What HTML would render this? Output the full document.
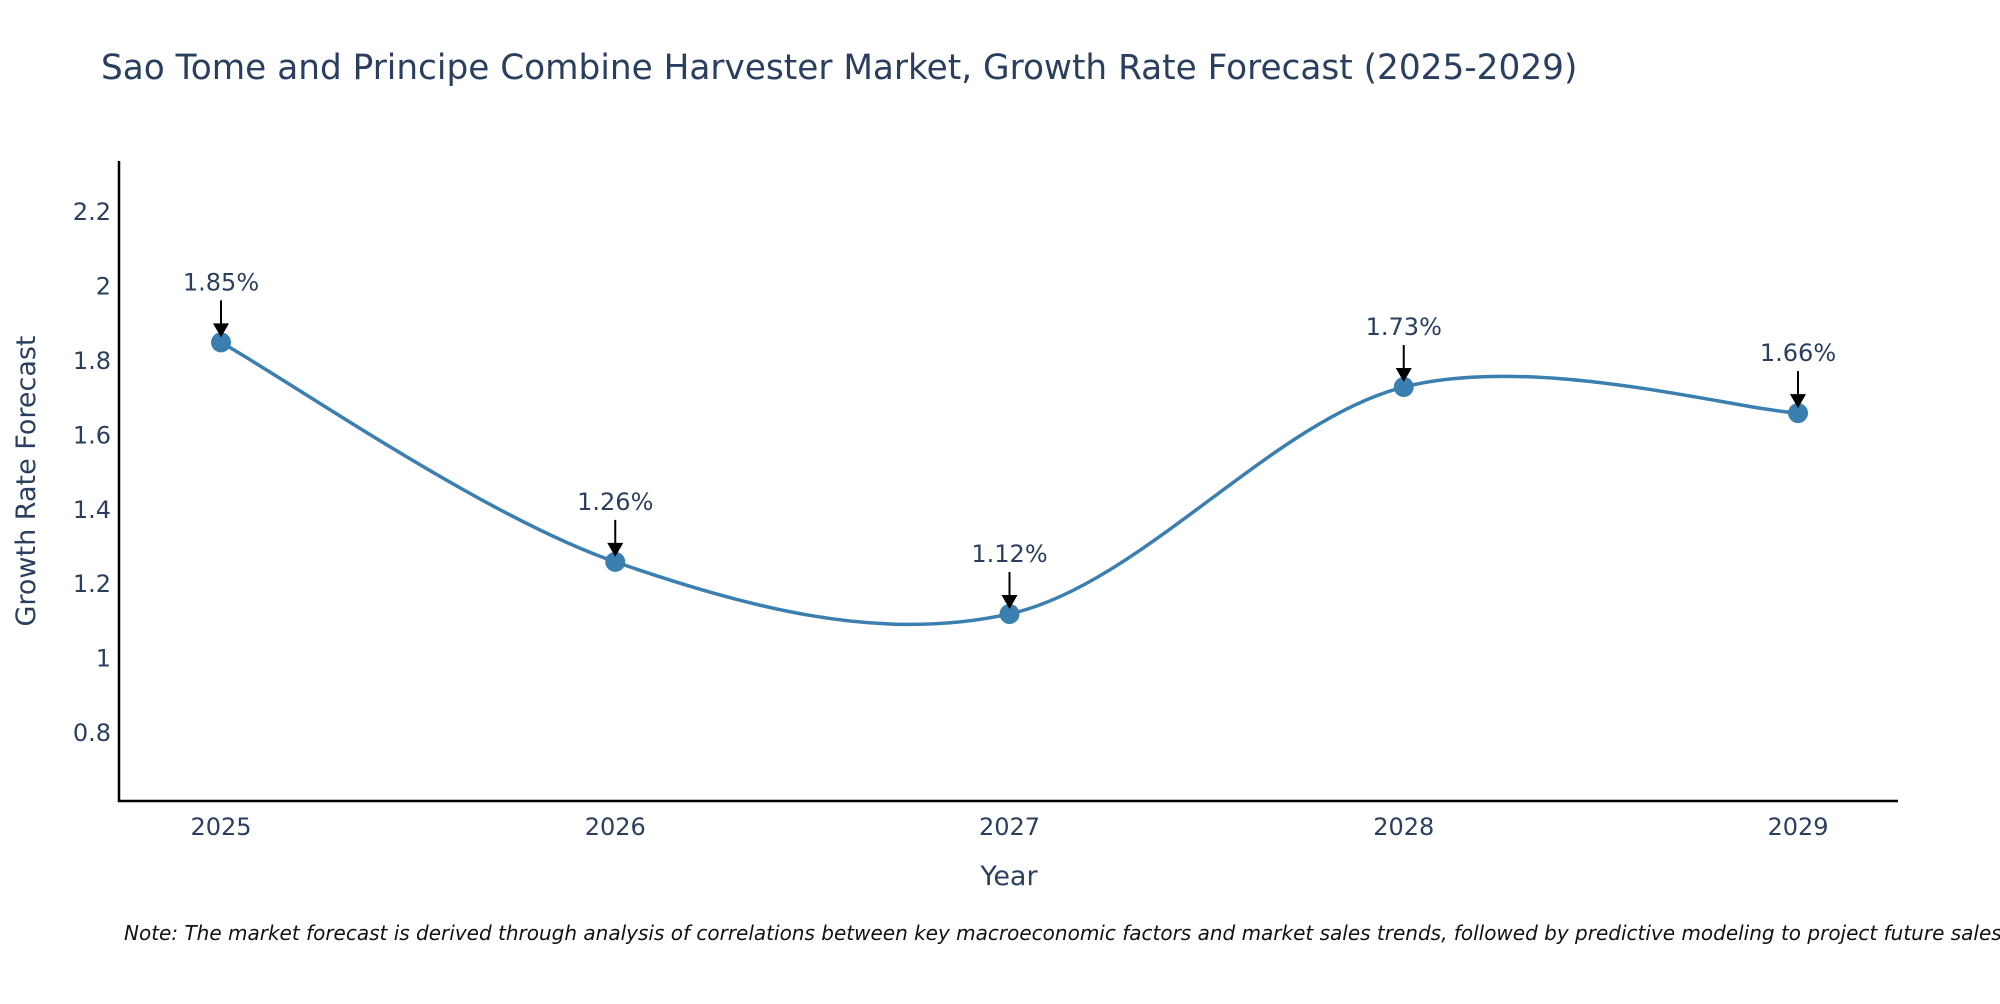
<!DOCTYPE html>
<html><head><meta charset="utf-8"><style>
body{margin:0;background:#fff;font-family:"DejaVu Sans",sans-serif;}
svg text{font-family:"DejaVu Sans",sans-serif;fill:#2a3f5f;}
</style></head><body>
<svg width="2000" height="1000" id="chart">
<text x="101" y="79" font-size="34.3">Sao Tome and Principe Combine Harvester Market, Growth Rate Forecast (2025-2029)</text>
<g id="yticks"></g>
<g id="xticks"></g>
<line x1="119" y1="161" x2="119" y2="802" stroke="#000" stroke-width="2.5"/>
<line x1="118" y1="801" x2="1898" y2="801" stroke="#000" stroke-width="2.5"/>
<text x="0" y="0" font-size="27" text-anchor="middle" transform="translate(35,481) rotate(-90)">Growth Rate Forecast</text>
<text x="1009" y="885" font-size="27" text-anchor="middle">Year</text>
<g id="series"></g>
<text x="124" y="940" font-size="20" font-style="italic" style="fill:#111">Note: The market forecast is derived through analysis of correlations between key macroeconomic factors and market sales trends, followed by predictive modeling to project future sales.</text>
</svg>
<script>
const years=[2025,2026,2027,2028,2029];
const values=[1.85,1.26,1.12,1.73,1.66];
const labels=["1.85%","1.26%","1.12%","1.73%","1.66%"];
const yTicks=[0.8,1,1.2,1.4,1.6,1.8,2,2.2];
const NS="http://www.w3.org/2000/svg";
const xs=v=>221+(v-2025)*394.25;
const ys=v=>733-(v-0.8)*372;
function mk(t,a,p){const e=document.createElementNS(NS,t);for(const k in a)e.setAttribute(k,a[k]);p.appendChild(e);return e;}
const yg=document.getElementById('yticks');
yTicks.forEach(t=>{const e=mk('text',{x:111,y:ys(t)+8,'font-size':24,'text-anchor':'end'},yg);e.textContent=String(t);

});
const xg=document.getElementById('xticks');
years.forEach(y=>{const e=mk('text',{x:xs(y),y:835,'font-size':24,'text-anchor':'middle'},xg);e.textContent=String(y);

});
const pts=years.map((y,i)=>[xs(y),ys(values[i])]);
let d=`M${pts[0][0]},${pts[0][1]}`;const tn=0.5/3*2;
for(let i=0;i<pts.length-1;i++){const p0=pts[i-1]||pts[i],p1=pts[i],p2=pts[i+1],p3=pts[i+2]||p2;
const c1=[p1[0]+(p2[0]-p0[0])*tn/2,p1[1]+(p2[1]-p0[1])*tn/2];
const c2=[p2[0]-(p3[0]-p1[0])*tn/2,p2[1]-(p3[1]-p1[1])*tn/2];
d+=` C${c1[0]},${c1[1]} ${c2[0]},${c2[1]} ${p2[0]},${p2[1]}`;}
const sg=document.getElementById('series');
const ln=mk('path',{d:d,fill:'none',stroke:'#3b7fb0','stroke-width':3.5},sg);


pts.forEach((p,i)=>{
const c=mk('circle',{cx:p[0],cy:p[1],r:10,fill:'#3b7fb0'},sg);


const a=mk('line',{x1:p[0],y1:p[1]-42,x2:p[0],y2:p[1]-16,stroke:'#000','stroke-width':2},sg);


const h=mk('path',{d:`M${p[0]-8},${p[1]-19} L${p[0]+8},${p[1]-19} L${p[0]},${p[1]-5} Z`,fill:'#000'},sg);


const t=mk('text',{x:p[0],y:p[1]-52,'font-size':24,'text-anchor':'middle'},sg);t.textContent=labels[i];


});
</script>
</body></html>
